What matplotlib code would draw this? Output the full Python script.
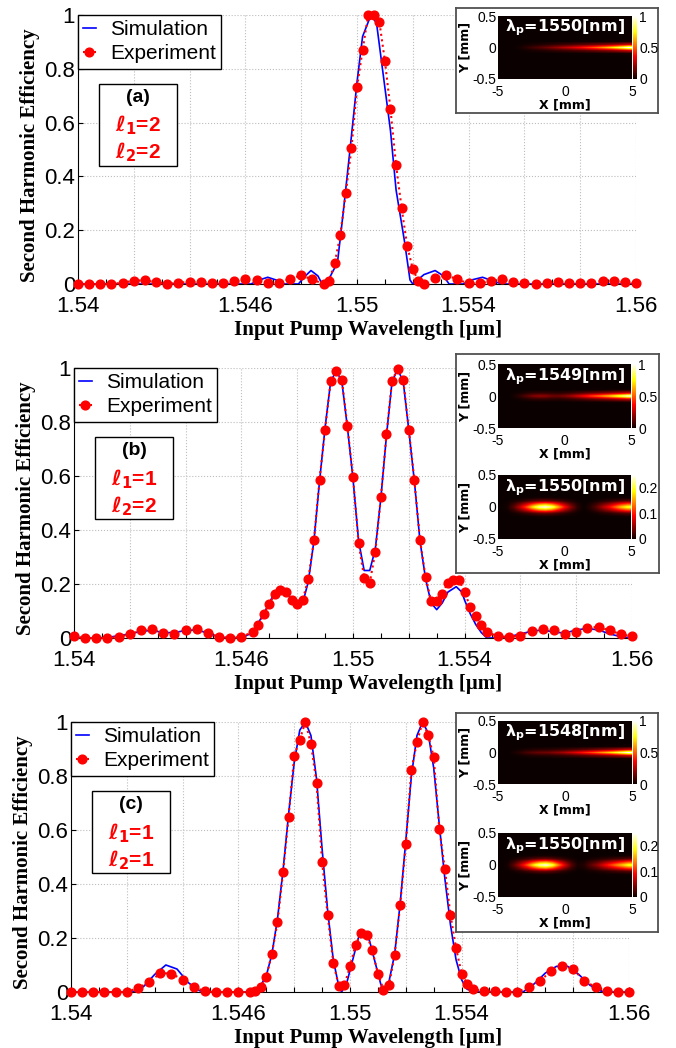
import numpy as np
import matplotlib
matplotlib.use('Agg')
import matplotlib.pyplot as plt
from matplotlib.patches import Rectangle

plt.rcParams['font.family'] = ['Liberation Sans', 'DejaVu Sans']
plt.rcParams['axes.unicode_minus'] = False
plt.rcParams['mathtext.fontset'] = 'custom'
plt.rcParams['mathtext.it'] = 'DejaVu Sans:italic:bold'
plt.rcParams['mathtext.rm'] = 'DejaVu Sans:bold'
plt.rcParams['mathtext.bf'] = 'DejaVu Sans:bold'

W, H = 676, 1048

# ---------------- panel (a) : l1=2, l2=2 ----------------
sim_a_x = [1.5400, 1.5462, 1.5465, 1.5468, 1.5471, 1.5474, 1.5479, 1.5481, 1.54835, 1.5486,
           1.54875, 1.5490, 1.5493, 1.5495, 1.54975, 1.5500, 1.5502, 1.5505, 1.5507, 1.5509,
           1.5512, 1.5514, 1.5517, 1.5519, 1.5520, 1.5524, 1.5528, 1.5531, 1.5533, 1.5538,
           1.5541, 1.5545, 1.5549, 1.5552, 1.5600]
sim_a_y = [0.0, 0.0, 0.015, 0.025, 0.015, 0.0, 0.0, 0.025, 0.05, 0.03,
           0.0, 0.02, 0.08, 0.26, 0.50, 0.75, 0.92, 1.0, 0.97, 0.81,
           0.57, 0.35, 0.16, 0.015, 0.0, 0.035, 0.05, 0.03, 0.0, 0.0,
           0.015, 0.025, 0.01, 0.0, 0.0]
exp_a_x = [1.5400, 1.5404, 1.5408, 1.5412, 1.5416, 1.5420, 1.5424, 1.5428, 1.5432, 1.5436,
           1.5440, 1.5444, 1.5448, 1.5452, 1.5456, 1.5460, 1.5464, 1.5468, 1.5472, 1.5476,
           1.5480, 1.5484, 1.5488, 1.5490, 1.5492, 1.5494, 1.5496, 1.5498, 1.5500, 1.5502,
           1.5504, 1.5506, 1.5508, 1.5510, 1.5512, 1.5514, 1.5516, 1.5518, 1.5520, 1.5522,
           1.5524, 1.5528, 1.5532, 1.5536, 1.5540, 1.5544, 1.5548, 1.5552, 1.5556, 1.5560,
           1.5564, 1.5568, 1.5572, 1.5576, 1.5580, 1.5584, 1.5588, 1.5592, 1.5596, 1.5600]
exp_a_y = [0.0, 0.0, 0.0, 0.0, 0.005, 0.012, 0.014, 0.006, 0.0, 0.005,
           0.008, 0.008, 0.003, 0.003, 0.01, 0.018, 0.015, 0.003, 0.003, 0.02,
           0.032, 0.017, 0.0, 0.012, 0.077, 0.181, 0.34, 0.504, 0.731, 0.87,
           1.0, 1.0, 0.975, 0.829, 0.649, 0.442, 0.281, 0.141, 0.055, 0.011,
           0.0, 0.021, 0.033, 0.017, 0.002, 0.002, 0.011, 0.017, 0.009, 0.002,
           0.0, 0.005, 0.009, 0.005, 0.002, 0.005, 0.012, 0.012, 0.006, 0.002]

# ---------------- panel (b) : l1=1, l2=2 ----------------
sim_b_x = [1.5400, 1.5408, 1.5412, 1.5420, 1.5424, 1.5428, 1.5432, 1.5436, 1.5440, 1.5444,
           1.5448, 1.5452, 1.5456, 1.5460, 1.5464, 1.5468, 1.5472, 1.5474, 1.5476, 1.5478,
           1.5480, 1.5482, 1.5484, 1.5486, 1.5488, 1.5490, 1.5492, 1.5494, 1.5496, 1.5498,
           1.5500, 1.5502, 1.5504, 1.5506, 1.5508, 1.5510, 1.5512, 1.5514, 1.5516, 1.5518,
           1.5520, 1.5522, 1.5524, 1.5526, 1.5528, 1.5530, 1.5532, 1.5534, 1.5537, 1.5539,
           1.5540, 1.5542, 1.5544, 1.5546, 1.5548, 1.5552, 1.5556, 1.5560, 1.5564, 1.5568,
           1.5572, 1.5576, 1.5580, 1.5584, 1.5588, 1.5592, 1.5596, 1.5600]
sim_b_y = [0.0, 0.0, 0.002, 0.015, 0.025, 0.028, 0.02, 0.02, 0.028, 0.03,
           0.018, 0.003, 0.0, 0.0, 0.02, 0.09, 0.17, 0.19, 0.18, 0.14,
           0.11, 0.13, 0.21, 0.36, 0.58, 0.78, 0.95, 0.99, 0.95, 0.78,
           0.59, 0.36, 0.25, 0.25, 0.33, 0.52, 0.75, 0.95, 0.995, 0.95,
           0.77, 0.58, 0.36, 0.22, 0.13, 0.105, 0.13, 0.17, 0.19, 0.17,
           0.14, 0.09, 0.05, 0.02, 0.0, 0.0, 0.005, 0.015, 0.025, 0.03,
           0.022, 0.018, 0.03, 0.035, 0.03, 0.015, 0.005, 0.0]
exp_b_x = [1.5400, 1.5404, 1.5408, 1.5412, 1.5416, 1.5420, 1.5424, 1.5428, 1.5432, 1.5436,
           1.5440, 1.5444, 1.5448, 1.5452, 1.5456, 1.5460, 1.5464, 1.5466, 1.5468, 1.5470,
           1.5472, 1.5474, 1.5476, 1.5478, 1.5480, 1.5482, 1.5484, 1.5486, 1.5488, 1.5490,
           1.5492, 1.5494, 1.5496, 1.5498, 1.5500, 1.5502, 1.5504, 1.5506, 1.5508, 1.5510,
           1.5512, 1.5514, 1.5516, 1.5518, 1.5520, 1.5522, 1.5524, 1.5526, 1.5528, 1.5530,
           1.5532, 1.5534, 1.5536, 1.5538, 1.5540, 1.5542, 1.5544, 1.5546, 1.5548, 1.5552,
           1.5556, 1.5560, 1.5564, 1.5568, 1.5572, 1.5576, 1.5580, 1.5584, 1.5588, 1.5592,
           1.5596, 1.5600]
exp_b_y = [0.006, 0.0, 0.0, 0.0, 0.004, 0.014, 0.028, 0.032, 0.019, 0.016,
           0.028, 0.035, 0.019, 0.004, 0.001, 0.004, 0.022, 0.047, 0.088, 0.127,
           0.162, 0.179, 0.17, 0.142, 0.127, 0.142, 0.22, 0.362, 0.586, 0.772,
           0.952, 0.988, 0.957, 0.784, 0.596, 0.352, 0.223, 0.204, 0.319, 0.522,
           0.754, 0.952, 0.998, 0.957, 0.772, 0.584, 0.364, 0.226, 0.137, 0.137,
           0.164, 0.204, 0.214, 0.216, 0.17, 0.115, 0.08, 0.047, 0.022, 0.006,
           0.004, 0.009, 0.026, 0.035, 0.028, 0.014, 0.022, 0.038, 0.041, 0.028,
           0.014, 0.006]

# ---------------- panel (c) : l1=1, l2=1 ----------------
sim_c_x = [1.5400, 1.5422, 1.5426, 1.5430, 1.5434, 1.5438, 1.5442, 1.5446, 1.5448, 1.5464,
           1.5466, 1.5468, 1.5470, 1.5472, 1.5474, 1.5476, 1.5478, 1.5480, 1.5482, 1.5484,
           1.5486, 1.5488, 1.5490, 1.5492, 1.5494, 1.5496, 1.5497, 1.5499, 1.5501, 1.5503,
           1.5505, 1.5507, 1.5509, 1.5511, 1.5512, 1.5514, 1.5516, 1.5518, 1.5520, 1.5522,
           1.5524, 1.5526, 1.5528, 1.5530, 1.5532, 1.5534, 1.5536, 1.5538, 1.5540, 1.5542,
           1.5545, 1.5562, 1.5566, 1.5570, 1.5574, 1.5578, 1.5582, 1.5586, 1.5590, 1.5592,
           1.5600]
sim_c_y = [0.0, 0.0, 0.02, 0.065, 0.10, 0.085, 0.035, 0.005, 0.0, 0.0,
           0.005, 0.025, 0.06, 0.14, 0.27, 0.45, 0.66, 0.85, 0.97, 1.0,
           0.95, 0.79, 0.53, 0.30, 0.12, 0.02, 0.0, 0.04, 0.12, 0.20,
           0.225, 0.19, 0.11, 0.03, 0.0, 0.04, 0.14, 0.33, 0.56, 0.80,
           0.95, 1.0, 0.96, 0.83, 0.62, 0.42, 0.25, 0.12, 0.045, 0.01,
           0.0, 0.0, 0.03, 0.07, 0.095, 0.095, 0.065, 0.025, 0.003, 0.0,
           0.0]
exp_c_x = [1.5400, 1.5404, 1.5408, 1.5412, 1.5416, 1.5420, 1.5424, 1.5428, 1.5432, 1.5436,
           1.5440, 1.5444, 1.5448, 1.5452, 1.5456, 1.5460, 1.5464, 1.5466, 1.5468, 1.5470,
           1.5472, 1.5474, 1.5476, 1.5478, 1.5480, 1.5482, 1.5484, 1.5486, 1.5488, 1.5490,
           1.5492, 1.5494, 1.5496, 1.5498, 1.5500, 1.5502, 1.5504, 1.5506, 1.5508, 1.5510,
           1.5512, 1.5514, 1.5516, 1.5518, 1.5520, 1.5522, 1.5524, 1.5526, 1.5528, 1.5530,
           1.5532, 1.5534, 1.5536, 1.5538, 1.5540, 1.5542, 1.5544, 1.5548, 1.5552, 1.5556,
           1.5560, 1.5564, 1.5568, 1.5572, 1.5576, 1.5580, 1.5584, 1.5588, 1.5592, 1.5596,
           1.5600]
exp_c_y = [0.0, 0.0, 0.0, 0.0, 0.0, 0.0, 0.015, 0.036, 0.07, 0.068,
           0.046, 0.019, 0.002, 0.0, 0.0, 0.0, 0.0, 0.005, 0.019, 0.056,
           0.142, 0.258, 0.443, 0.648, 0.875, 0.935, 1.0, 0.92, 0.774, 0.481,
           0.284, 0.109, 0.022, 0.025, 0.095, 0.175, 0.219, 0.212, 0.154, 0.068,
           0.009, 0.027, 0.138, 0.323, 0.549, 0.823, 0.925, 1.0, 0.953, 0.87,
           0.605, 0.456, 0.286, 0.163, 0.068, 0.031, 0.012, 0.002, 0.002, 0.0,
           0.0, 0.019, 0.04, 0.077, 0.095, 0.085, 0.04, 0.019, 0.002, 0.0,
           0.0]

panel_tags = ['(a)', '(b)', '(c)']
l1_vals = ['2', '1', '1']
l2_vals = ['2', '2', '1']

xticks_major = [1.540, 1.542, 1.544, 1.546, 1.548, 1.550, 1.552, 1.554, 1.556, 1.558, 1.560]
xticklabels = ['1.54', '', '', '1.546', '', '1.55', '', '1.554', '', '', '1.56']
xticks_minor = [1.541, 1.543, 1.545, 1.547, 1.549, 1.551, 1.553, 1.555, 1.557, 1.559]
yticks = [0, 0.2, 0.4, 0.6, 0.8, 1.0]
yticklabels = ['0', '0.2', '0.4', '0.6', '0.8', '1']

# ---------------- inset field maps (SH intensity along crystal) ----------------
map_x = [-5, -4.5, -4, -3.5, -3, -2.5, -2, -1.5, -1, -0.5, 0, 0.5, 1, 1.5, 2, 2.5, 3, 3.5, 4, 4.5, 5]
map_y = [-0.5, -0.45, -0.4, -0.35, -0.3, -0.25, -0.2, -0.15, -0.1, -0.05, 0,
         0.05, 0.1, 0.15, 0.2, 0.25, 0.3, 0.35, 0.4, 0.45, 0.5]
beam_thin = [0, 0, 0, 0, 0, 0, 0, 0, 0.02, 0.3, 1, 0.3, 0.02, 0, 0, 0, 0, 0, 0, 0, 0]
beam_wide = [0, 0, 0, 0, 0, 0, 0, 0.02, 0.15, 0.6, 1, 0.6, 0.15, 0.02, 0, 0, 0, 0, 0, 0, 0]
axial_a_1550 = [0, 0, 0.005, 0.02, 0.05, 0.08, 0.11, 0.14, 0.18, 0.22, 0.26,
                0.30, 0.35, 0.40, 0.46, 0.52, 0.59, 0.67, 0.76, 0.87, 1.0]
axial_b_1549 = [0, 0, 0.02, 0.06, 0.12, 0.18, 0.21, 0.20, 0.16, 0.15, 0.18,
                0.23, 0.30, 0.37, 0.45, 0.52, 0.60, 0.68, 0.78, 0.88, 1.0]
axial_b_1550 = [0, 0.005, 0.03, 0.07, 0.12, 0.18, 0.23, 0.25, 0.22, 0.16, 0.10,
                0.05, 0.015, 0.0, 0.01, 0.03, 0.06, 0.09, 0.13, 0.17, 0.20]
axial_c_1548 = [0, 0, 0.02, 0.05, 0.09, 0.12, 0.14, 0.15, 0.17, 0.20, 0.24,
                0.29, 0.34, 0.40, 0.46, 0.53, 0.60, 0.68, 0.77, 0.88, 1.0]
axial_c_1550 = [0, 0.005, 0.03, 0.07, 0.12, 0.18, 0.23, 0.25, 0.21, 0.14, 0.08,
                0.03, 0.005, 0.01, 0.03, 0.05, 0.08, 0.11, 0.14, 0.17, 0.20]


def frac(x0, y0, x1, y1):
    # pixel box (top-left origin) -> figure fraction rect
    return [x0 / W, 1 - y1 / H, (x1 - x0) / W, (y1 - y0) / H]


def field_map(fig, rect, axial, beam, lam, vmax, cticks, ctlabels):
    x0, y0, x1, y1 = rect
    ax = fig.add_axes(frac(x0, y0, x1, y1))
    img = np.outer(beam, axial)
    im = ax.imshow(img, cmap='hot', vmin=0, vmax=vmax, origin='lower', aspect='auto',
                   extent=[map_x[0], map_x[-1], map_y[0], map_y[-1]], interpolation='bilinear')
    ax.set_xticks([-5, 0, 5])
    ax.set_xticklabels(['-5', '0', '5'])
    ax.set_yticks([-0.5, 0, 0.5])
    ax.set_yticklabels(['-0.5', '0', '0.5'])
    ax.tick_params(length=0, pad=1, labelsize=10)
    ax.tick_params(axis='x', pad=4)
    ax.set_xlabel('X [mm]', fontsize=9, fontweight='bold', family='DejaVu Sans', labelpad=0)
    ax.set_ylabel('Y [mm]', fontsize=9, fontweight='bold', family='DejaVu Sans', labelpad=1)
    for s in ax.spines.values():
        s.set_visible(False)
    ax.text(0.5, 0.97, r'λ$_{\mathrm{p}}$=' + lam + '[nm]', transform=ax.transAxes,
            ha='center', va='top', color='white', fontsize=11.5, fontweight='bold',
            family='DejaVu Sans')
    cax = fig.add_axes(frac(x1 + 1, y0, x1 + 5, y1))
    cb = fig.colorbar(im, cax=cax, ticks=cticks)
    cb.ax.set_yticklabels(ctlabels)
    cb.ax.tick_params(length=0, pad=1.5, labelsize=10)
    cb.outline.set_visible(False)
    return ax


def inset_box(fig, rect):
    bx = fig.add_axes(frac(*rect))
    bx.set_xticks([])
    bx.set_yticks([])
    bx.set_facecolor('white')
    for s in bx.spines.values():
        s.set_color('#505050')
        s.set_linewidth(1.3)
    return bx


fig = plt.figure(figsize=(W / 100, H / 100), dpi=100)

axes_px = [(78, 15, 636, 284), (74, 368, 632, 638), (71, 722, 629, 992)]
sims = [(sim_a_x, sim_a_y), (sim_b_x, sim_b_y), (sim_c_x, sim_c_y)]
exps = [(exp_a_x, exp_a_y), (exp_b_x, exp_b_y), (exp_c_x, exp_c_y)]

for i in range(3):
    ax = fig.add_axes(frac(*axes_px[i]))
    ls, = ax.plot(sims[i][0], sims[i][1], color='blue', lw=1.2, zorder=3)
    le, = ax.plot(exps[i][0], exps[i][1], color='red', ls=':', lw=1.5, marker='o',
                  ms=6.3, mec='red', mfc='red', zorder=4, clip_on=False)
    ax.set_xlim(1.54, 1.56)
    ax.set_ylim(0, 1)
    ax.set_xticks(xticks_major)
    ax.set_xticklabels(xticklabels)
    ax.set_xticks(xticks_minor, minor=True)
    ax.set_yticks(yticks)
    ax.set_yticklabels(yticklabels)
    ax.tick_params(which='both', direction='in', length=3.6, width=0.8, labelsize=16)
    ax.tick_params(axis='x', which='major', pad=8.5)
    ax.tick_params(axis='y', pad=2)
    ax.grid(True, which='major', ls=':', color='#bdbdbd', lw=0.8)
    ax.set_axisbelow(True)
    ax.spines['top'].set_visible(False)
    ax.spines['right'].set_visible(False)
    # the labels sit a little off the axes centre in the original
    left = axes_px[i][0]
    ax.set_xlabel('Input Pump Wavelength [μm]', family='Liberation Serif',
                  fontweight='bold', fontsize=15, labelpad=2, x=(368 - left) / 558)
    ax.set_ylabel('Second Harmonic Efficiency', family='Liberation Serif',
                  fontweight='bold', fontsize=15, labelpad=3, y=0.48)
    leg = ax.legend([ls, le], ['Simulation', 'Experiment'], loc='upper left',
                    bbox_to_anchor=(0, 1), borderaxespad=0, fancybox=False,
                    edgecolor='black', framealpha=1, fontsize=15, handlelength=0.6,
                    handletextpad=0.7, borderpad=0.25, labelspacing=0.25, numpoints=1)
    leg.get_frame().set_linewidth(1.0)
    leg.set_zorder(10)
    # panel tag box
    ax.add_patch(Rectangle((0.038, 0.44), 0.14, 0.305, transform=ax.transAxes,
                           facecolor='white', edgecolor='black', lw=1.0, zorder=9))
    ax.text(0.108, 0.695, panel_tags[i], transform=ax.transAxes, ha='center', va='center',
            fontsize=14, fontweight='bold', zorder=11)
    ax.text(0.108, 0.59, r'$\ell_{\mathrm{1}}$=' + l1_vals[i], transform=ax.transAxes,
            ha='center', va='center', fontsize=15, fontweight='bold', color='red', zorder=11)
    ax.text(0.108, 0.49, r'$\ell_{\mathrm{2}}$=' + l2_vals[i], transform=ax.transAxes,
            ha='center', va='center', fontsize=15, fontweight='bold', color='red', zorder=11)

# insets
inset_box(fig, (456, 8, 658, 113))
field_map(fig, (498, 16, 632, 79), axial_a_1550, beam_thin, '1550', 1.0, [0, 0.5, 1], ['0', '0.5', '1'])

inset_box(fig, (456, 354, 659, 573))
field_map(fig, (498, 364, 631, 428), axial_b_1549, beam_thin, '1549', 1.0, [0, 0.5, 1], ['0', '0.5', '1'])
field_map(fig, (498, 475, 631, 539), axial_b_1550, beam_wide, '1550', 0.25, [0, 0.1, 0.2], ['0', '0.1', '0.2'])

inset_box(fig, (456, 713, 658, 932))
field_map(fig, (498, 721, 632, 784), axial_c_1548, beam_thin, '1548', 1.0, [0, 0.5, 1], ['0', '0.5', '1'])
field_map(fig, (498, 833, 632, 897), axial_c_1550, beam_wide, '1550', 0.25, [0, 0.1, 0.2], ['0', '0.1', '0.2'])

fig.savefig('out.png', dpi=100)
